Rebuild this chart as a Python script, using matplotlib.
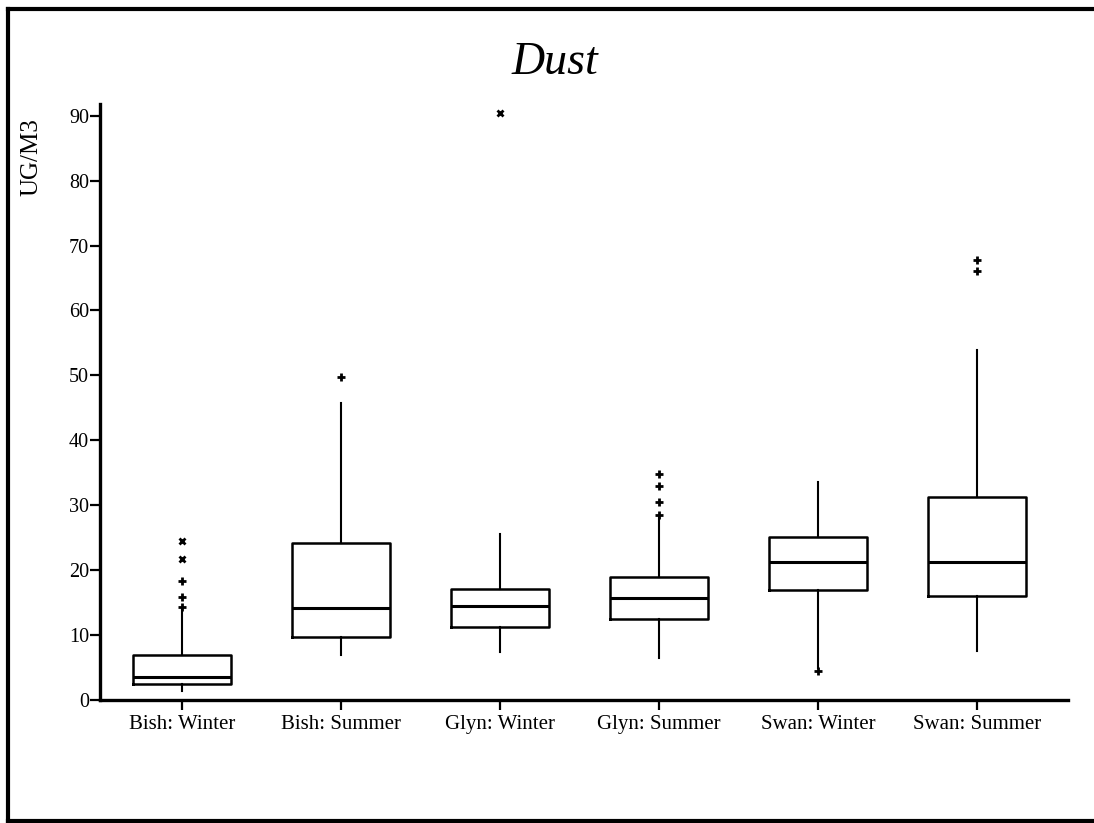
import matplotlib
matplotlib.use("Agg")
import matplotlib.pyplot as plt
from matplotlib.lines import Line2D

plt.rcParams['font.family'] = ['Liberation Serif', 'DejaVu Serif']

# Box statistics per group (UG/M3)
groups = ["Bish: Winter", "Bish: Summer", "Glyn: Winter",
          "Glyn: Summer", "Swan: Winter", "Swan: Summer"]
whislo = [1.4, 6.9, 7.4, 6.4, 5.0, 7.6]
q1 = [2.4, 9.7, 11.2, 12.4, 17.0, 16.0]
med = [3.5, 14.1, 14.5, 15.7, 21.2, 21.3]
q3 = [6.9, 24.2, 17.1, 18.9, 25.1, 31.2]
whishi = [14.0, 45.7, 25.6, 28.4, 33.6, 53.9]

# outside values (+) and far-out values (x), as (group index, value)
plus_grp = [0, 0, 0, 1, 3, 3, 3, 3, 4, 5, 5]
plus_val = [14.3, 15.8, 18.3, 49.8, 28.5, 30.5, 33.0, 34.8, 4.4, 66.1, 67.8]
cross_grp = [0, 0, 2]
cross_val = [21.7, 24.5, 90.4]

yticks = [0, 10, 20, 30, 40, 50, 60, 70, 80, 90]

fig = plt.figure(figsize=(10.94, 8.23), dpi=100)
ax = fig.add_axes([100/1094, 123/823, 968/1094, 596/823])

positions = list(range(1, len(groups) + 1))
stats = []
for i in range(len(groups)):
    stats.append(dict(whislo=whislo[i], q1=q1[i], med=med[i], q3=q3[i],
                      whishi=whishi[i], fliers=[], label=groups[i]))

ax.bxp(stats, positions=positions, widths=0.62, showcaps=False,
       showfliers=False,
       boxprops=dict(color='black', linewidth=1.8),
       whiskerprops=dict(color='black', linewidth=1.5),
       medianprops=dict(color='black', linewidth=2.2))

ax.plot([positions[g] for g in plus_grp], plus_val, linestyle='none',
        marker='+', markersize=6, markeredgewidth=2.0, color='black')
ax.plot([positions[g] for g in cross_grp], cross_val, linestyle='none',
        marker='x', markersize=5, markeredgewidth=2.0, color='black')

ax.set_xlim(0.484, 6.572)
ax.set_ylim(0, 91.8)
ax.set_yticks(yticks)
ax.set_xticks(positions)
ax.set_xticklabels(groups)

for side in ['top', 'right']:
    ax.spines[side].set_visible(False)
for side in ['left', 'bottom']:
    ax.spines[side].set_linewidth(2.4)

ax.tick_params(axis='y', direction='out', length=7, width=1.6,
               labelsize=14.5, pad=1)
ax.tick_params(axis='x', direction='out', length=7, width=1.6,
               labelsize=15, pad=4)

fig.text(31/1094, 1 - 157/823, "UG/M3", rotation=90, fontsize=18,
         ha='center', va='center')
fig.text(555/1094, 1 - 63/823, "Dust", fontsize=33, style='italic',
         ha='center', va='center')

# outer frame (left, top, bottom edges)
frame = dict(color='black', linewidth=3.0, transform=fig.transFigure)
fig.add_artist(Line2D([7.5/1094, 7.5/1094], [2/823, 1 - 8.5/823], **frame))
fig.add_artist(Line2D([7.5/1094, 1.0], [1 - 8.5/823, 1 - 8.5/823], **frame))
fig.add_artist(Line2D([7.5/1094, 1.0], [2/823, 2/823], **frame))

fig.savefig("out.png", dpi=100)
